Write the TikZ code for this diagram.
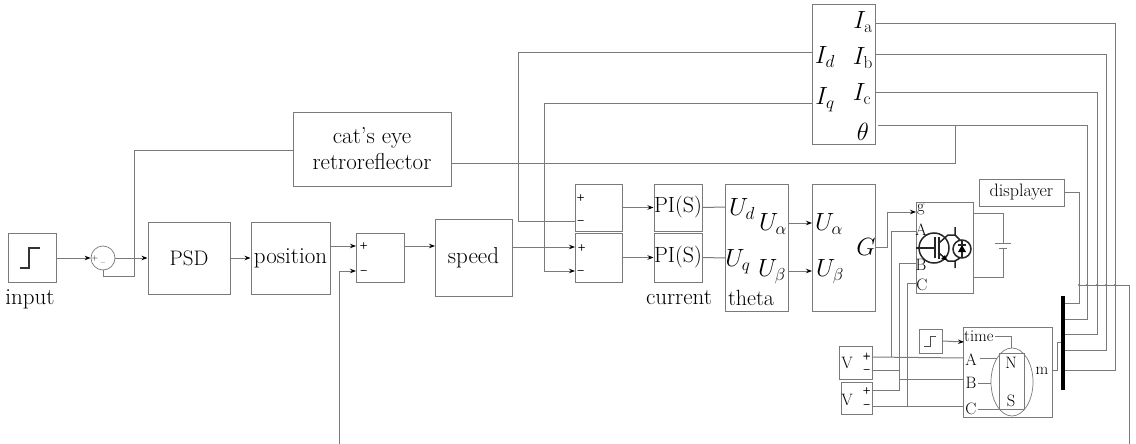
\documentclass[tikz,border=0pt]{standalone}
\usepackage{amsmath}
\usepackage{amssymb}
\usepackage{tikz}
\usetikzlibrary{arrows.meta,shapes.geometric}
\definecolor{linegray}{gray}{0.48}
\tikzset{
  block/.style={draw=linegray, line width=1pt, inner sep=0pt, fill=none, font=\fontsize{23}{26}\selectfont},
  conn/.style={draw=linegray, line width=1pt},
  arr/.style={conn, -{Stealth[length=6pt,width=4.5pt,black]}},
  lbl/.style={inner sep=0pt, font=\fontsize{23}{26}\selectfont},
  small/.style={inner sep=0pt, font=\fontsize{16.5}{18}\selectfont},
  mathlbl/.style={inner sep=0pt, font=\fontsize{23}{26}\selectfont},
  sign/.style={inner sep=0pt, font=\fontsize{10}{10}\selectfont},
  symb/.style={draw=black!85, line width=1.5pt},
  junction/.style={circle, fill=linegray, inner sep=0pt, minimum size=2.5pt}
}

\begin{document}
\begin{tikzpicture}[x=1pt,y=-1pt]
\useasboundingbox (0,0) rectangle (1136,444);

%blocks, left to right
\node[block, minimum width=48pt, minimum height=49pt] (input) at (32,257.5) {};
\node[block, circle, minimum size=24pt, line width=0.7pt] (sum) at (103,258) {};
\node[block, minimum width=82pt, minimum height=72pt, font=\fontsize{21}{24}\selectfont] (PSD) at (189,258) {PSD};
\node[block, minimum width=79pt, minimum height=72pt] (position) at (290.5,258) {position};
\node[block, minimum width=48pt, minimum height=49pt] (posErr) at (380,257.5) {};
\node[block, minimum width=158pt, minimum height=74pt, align=center] (cat) at (372,149) {cat's eye\\retroreflector};
\node[block, minimum width=77pt, minimum height=77pt] (speed) at (473.5,257.5) {speed};
\node[block, minimum width=47pt, minimum height=47pt] (idErr) at (598.5,207.5) {};
\node[block, minimum width=47pt, minimum height=49pt] (iqErr) at (598.5,257.5) {};
\node[block, minimum width=48pt, minimum height=47pt, font=\fontsize{22}{24}\selectfont] (PId) at (678,207.5) {PI(S)};
\node[block, minimum width=48pt, minimum height=49pt, font=\fontsize{22}{24}\selectfont] (PIq) at (678,257.5) {PI(S)};
\node[block, minimum width=63pt, minimum height=127pt] (theta) at (756.5,247.5) {};
\node[block, minimum width=63pt, minimum height=127pt] (pwm) at (843.5,247.5) {};
\node[block, minimum width=63pt, minimum height=139pt] (park) at (843.5,74.5) {};
\node[block, minimum width=57pt, minimum height=91pt] (inverter) at (944.5,247.5) {};
\node[block, minimum width=85pt, minimum height=27pt, font=\fontsize{18}{20}\selectfont] (disp) at (1021.5,192.5) {displayer};
\node[block, minimum width=23pt, minimum height=24pt] (stepT) at (930.5,341) {};
\node[block, minimum width=89pt, minimum height=90pt] (motor) at (1007.5,372) {};
\node[block, minimum width=33pt, minimum height=33pt] (VA) at (855.5,362.5) {};
\node[block, minimum width=31pt, minimum height=32pt] (VB) at (856.5,398) {};
\node[draw=linegray, line width=0.7pt, ellipse, inner sep=0pt, minimum width=42pt, minimum height=68pt] (rotor) at (1012,382) {};
\draw[conn, line width=0.7pt] (999,353) rectangle (1024,409);

%outside and inside labels
\node[lbl] (inputLbl) at (30,299) {input};
\node[lbl] (currLbl) at (679,298) {current};
\node[lbl, anchor=west, font=\fontsize{22}{24}\selectfont] (thetaLbl) at (728,298) {theta};
\node[mathlbl] (Ud) at (742,209) {$U_{d}$};
\node[mathlbl] (Uq) at (738,262) {$U_{q}$};
\node[mathlbl] (Ua) at (773,224) {$U_{\alpha}$};
\node[mathlbl] (Ub) at (772,272) {$U_{\beta}$};
\node[mathlbl] (Ua2) at (829,224) {$U_{\alpha}$};
\node[mathlbl] (Ub2) at (830,272) {$U_{\beta}$};
\node[mathlbl] (G) at (866,247) {$G$};
\node[mathlbl] (Id) at (825,57) {$I_{d}$};
\node[mathlbl] (Iq) at (825,100) {$I_{q}$};
\node[mathlbl] (Ia) at (863,22) {$I_{\mathrm{a}}$};
\node[mathlbl] (Ib) at (863,58) {$I_{\mathrm{b}}$};
\node[mathlbl] (Ic) at (862,94) {$I_{\mathrm{c}}$};
\node[mathlbl] (th) at (863,132) {$\theta$};
\node[small] (gLbl) at (921,210) {g};
\node[small] (ALbl) at (921,230) {A};
\node[small] (BLbl) at (921,265) {B};
\node[small] (CLbl) at (922,285) {C};
\node[small, anchor=west] (timeLbl) at (964,336) {time};
\node[small] (AmLbl) at (971,360) {A};
\node[small] (BmLbl) at (971,383) {B};
\node[small] (CmLbl) at (971,409) {C};
\node[small] (NLbl) at (1011,363) {N};
\node[small] (SLbl) at (1011,401) {S};
\node[small] (mLbl) at (1042,371) {m};
\node[small] (V1) at (847,363) {V};
\node[small] (V2) at (847,400) {V};

%plus and minus signs
\node[sign] (p1) at (364,246) {$\pmb{+}$};
\node[sign] (m1) at (364,271) {$\pmb{-}$};
\node[sign] (p2) at (581,198) {$\pmb{+}$};
\node[sign] (m2) at (581,221) {$\pmb{-}$};
\node[sign] (p3) at (582,248) {$\pmb{+}$};
\node[sign] (m3) at (581,271) {$\pmb{-}$};
\node[sign] (p4) at (867,356.5) {$\pmb{+}$};
\node[sign] (m4) at (867,370) {$\pmb{-}$};
\node[sign] (p5) at (867,391) {$\pmb{+}$};
\node[sign] (m5) at (867,405) {$\pmb{-}$};
\node[inner sep=0pt, font=\fontsize{8}{8}\selectfont] (p0) at (95,258) {+};
\node[inner sep=0pt, font=\fontsize{8}{8}\selectfont] (m0) at (103,264) {--};

%step glyphs
\draw[line width=1.1pt, black!80] (20,268)--(29,268)--(29,248)--(40,248);
\draw[line width=0.8pt, black!70] (924,346)--(930,346)--(930,336)--(936,336);

%ports
\coordinate (junc)    at (134,258);
\coordinate (sumLow)  at (103,276);
\coordinate (catIn)   at (293,150);
\coordinate (catOut)  at (451,163);
\coordinate (posOut)  at (330,246);
\coordinate (errP)    at (356,246);
\coordinate (errM)    at (356,271);
\coordinate (fbBot)   at (339,444);
\coordinate (errOut)  at (404,246);
\coordinate (speedIn) at (435,246);
\coordinate (speedOut) at (512,247);
\coordinate (iqP)     at (575,247);
\coordinate (iqM)     at (575,271);
\coordinate (idM)     at (575,221);
\coordinate (IdOut)   at (812,53);
\coordinate (IqOut)   at (812,104);
\coordinate (UaOut)   at (788,223);
\coordinate (UaIn)    at (812,223);
\coordinate (UbOut)   at (788,271);
\coordinate (UbIn)    at (812,271);
\coordinate (thetaUd) at (725,207);
\coordinate (thetaUq) at (725,258);
\coordinate (IaOut)   at (875,24);
\coordinate (IbOut)   at (875,55);
\coordinate (IcOut)   at (875,93);
\coordinate (thOut)   at (878,125);
\coordinate (thTap)   at (955,125);
\coordinate (gIn)     at (916,212);
\coordinate (aIn)     at (916,231);
\coordinate (bIn)     at (916,263);
\coordinate (cIn)     at (916,283.5);
\coordinate (gOut)    at (876,247);
\coordinate (VAp)     at (872,357);
\coordinate (VAm)     at (872,370);
\coordinate (VBp)     at (872,390);
\coordinate (VBm)     at (872,406);
\coordinate (mA)      at (964,358);
\coordinate (mB)      at (963,379);
\coordinate (mC)      at (963,406);
\coordinate (timeIn)  at (964,342);
\coordinate (busTop)  at (1063,296);
\coordinate (busBot)  at (1063,390);
\coordinate (bus1)    at (1063,303);
\coordinate (bus2)    at (1063,319);
\coordinate (bus3)    at (1063,334);
\coordinate (bus4)    at (1063,350);
\coordinate (bus5)    at (1063,370);
\coordinate (busM)    at (1063,342);
\coordinate (mOut)    at (1052,370);
\coordinate (scopeL)  at (1079,285);
\coordinate (scopeR)  at (1129,285);
\coordinate (scopeB)  at (1129,444);
\coordinate (batT)    at (973,213);
\coordinate (batB)    at (973,277);

%left part of the chain
\draw[arr] (input.east |- sum) -- (sum.west);
\draw[arr] (sum.east) -- (PSD.west);
\draw[arr] (PSD.east) -- (position.west);
\draw[arr] (posOut) -- (errP);
\draw[arr] (fbBot) |- (errM);
\draw[arr] (errOut) -- (speedIn);
\draw[conn] (sum.south) |- (sumLow) -| (junc);
\draw[conn] (junc) |- (catIn);

%current loops
\draw[arr] (speedOut) -- (iqP);
\draw[conn] (IdOut) -| (518,221) -- (idM);
\draw[arr] (IqOut) -| (544,271) -- (iqM);
\draw[arr] (idErr.east) -- (PId.west);
\draw[arr] (iqErr.east) -- (PIq.west);
\draw[conn] (PId.east) -- (thetaUd);
\draw[conn] (PIq.east) -- (thetaUq);
\draw[arr] (UaOut) -- (UaIn);
\draw[arr] (UbOut) -- (UbIn);

%feedback to the bus
\draw[conn] (IaOut) -| (1115,370) -- (bus5);
\draw[conn] (IbOut) -| (1106,350) -- (bus4);
\draw[conn] (IcOut) -| (1097,334) -- (bus3);
\draw[conn] (thOut) -| (1087,319) -- (bus2);
\draw[conn] (catOut) -| (thTap);
\draw[conn] (disp.east) -| (1079,303) -- (bus1);
\draw[conn] (scopeL) -- (scopeR) -- (scopeB);
\node[junction] (d1) at (1079,285) {};
\node[junction] (d2) at (1087,285) {};
\node[junction] (d3) at (1097,285) {};
\node[junction] (d4) at (1106,285) {};
\node[junction] (d5) at (1115,285) {};

%inverter wiring
\draw[arr] (gOut) -| (887,212) -- (gIn);
\draw[conn] (aIn) -| (891,357);
\draw[conn] (bIn) -| (899,390) -- (VBp);
\draw[conn] (cIn) -| (907,406);
\draw[conn] (VAp) -- (mA);
\draw[conn] (VAm) -- (899,370);
\draw[conn] (899,379) -- (mB);
\draw[conn] (VBm) -- (mC);

%battery
\draw[conn] (batT) -| (1003,243);
\draw[conn] (1003,248) |- (batB);
\draw[conn] (995,243) -- (1011,243);
\draw[conn] (999,248) -- (1007,248);

%motor
\draw[arr] (stepT.east) -- (timeIn);
\draw[conn, line width=0.7pt] (995,336) -| (1011,348);
\draw[conn, line width=0.7pt] (980,358) -- (997,358);
\draw[conn, line width=0.7pt] (978,383) -- (991,383);
\draw[conn, line width=0.7pt] (978,409) -- (1024,409);
\draw[conn] (mOut) -| (1057,342) -- (busM);
\draw[line width=3.6pt, black] (busTop) -- (busBot);

%IGBT symbol
\draw[symb] (934,248) circle (15);
\draw[symb] (962,249) circle (9);
\draw[symb] (916,248) -- (935,248);
\draw[symb] (935,237) -- (935,258);
\draw[symb] (939,237) -- (939,259);
\draw[symb] (939,243) -- (948,235) -- (955,235);
\draw[symb] (939,253) -- (948,261) -- (955,261);
\fill[black] (947,260.5) -- (941,259) -- (945,255) -- cycle;
\draw[symb] (955,227) -- (955,235) -- (960,240);
\draw[symb] (955,268) -- (955,261) -- (960,258);
\draw[symb, line width=1.1pt] (962,241) -- (962,257);
\fill[black] (962,245) -- (958,252) -- (966,252) -- cycle;
\draw[symb, line width=1.1pt] (958,245) -- (966,245);

\end{tikzpicture}
\end{document}
